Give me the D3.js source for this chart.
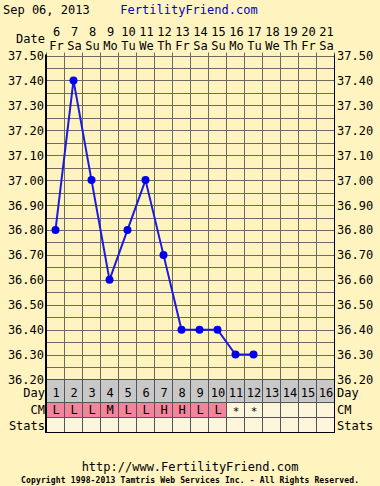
<!DOCTYPE html>
<html>
<head>
<meta charset="utf-8">
<script src="https://cdn.jsdelivr.net/npm/d3@7"></script>
<style>
  body { margin: 0; background: #fff3c0; }
  svg { display: block; font-family: "DejaVu Sans Mono", monospace; }
</style>
</head>
<body>
<div id="chart"></div>
<script>
// chart data
var cycleDays = [1,2,3,4,5,6,7,8,9,10,11,12,13,14,15,16];
var dateNumbers = ["6","7","8","9","10","11","12","13","14","15","16","17","18","19","20","21"];
var weekDays = ["Fr","Sa","Su","Mo","Tu","We","Th","Fr","Sa","Su","Mo","Tu","We","Th","Fr","Sa"];
var temps = [36.80,37.40,37.00,36.60,36.80,37.00,36.70,36.40,36.40,36.40,36.30,36.30];
var cmValues = ["L","L","L","M","L","L","H","H","L","L","*","*","","","",""];
var tempTicks = [37.50,37.40,37.30,37.20,37.10,37.00,36.90,36.80,36.70,36.60,36.50,36.40,36.30,36.20];

var width = 380, height = 486;
var plotLeft = 46.5, plotRight = 334.5, plotTop = 55.5, plotBottom = 379.5;

var svg = d3.select("#chart").append("svg")
    .attr("width", width).attr("height", height);

svg.append("rect").attr("width", width).attr("height", height).attr("fill", "#fff3c0");

var x = d3.scaleBand().domain(cycleDays).range([plotLeft, plotRight]);
var y = d3.scaleLinear().domain([36.2, 37.5]).range([plotBottom, plotTop]);

// header
svg.append("text").attr("x", 3).attr("y", 14).attr("font-size", 12).attr("fill", "#000").text("Sep 06, 2013");
svg.append("text").attr("x", 189).attr("y", 14).attr("font-size", 12).attr("fill", "#0000cc")
    .attr("text-anchor", "middle").text("FertilityFriend.com");

svg.append("text").attr("x", 45).attr("y", 43).attr("font-size", 12).attr("text-anchor", "end").text("Date");
svg.selectAll("text.dnum").data(cycleDays).enter().append("text")
    .attr("class", "dnum")
    .attr("x", function(d){ return x(d) + x.bandwidth()/2 + 1; })
    .attr("y", 36).attr("font-size", 12).attr("text-anchor", "middle")
    .text(function(d,i){ return dateNumbers[i]; });
svg.selectAll("text.wday").data(cycleDays).enter().append("text")
    .attr("class", "wday")
    .attr("x", function(d){ return x(d) + x.bandwidth()/2 + 1; })
    .attr("y", 50).attr("font-size", 12).attr("text-anchor", "middle")
    .text(function(d,i){ return weekDays[i]; });

// grid
var halfTicks = d3.range(0, 27).map(function(i){ return 36.2 + i*0.05; });
svg.selectAll("line.hgrid").data(halfTicks).enter().append("line")
    .attr("x1", plotLeft).attr("x2", plotRight)
    .attr("y1", function(d){ return Math.round(y(d)) + 0.5; })
    .attr("y2", function(d){ return Math.round(y(d)) + 0.5; })
    .attr("stroke", "#6e6a60").attr("stroke-width", 1);

var colEdges = cycleDays.map(function(d){ return x(d); }).concat([plotRight]);
svg.selectAll("line.vgrid").data(colEdges).enter().append("line")
    .attr("x1", function(d){ return Math.floor(d)+0.5; }).attr("x2", function(d){ return Math.floor(d)+0.5; })
    .attr("y1", plotTop - 3).attr("y2", plotBottom)
    .attr("stroke", "#6e6a60").attr("stroke-width", 1);

// side tick labels
svg.selectAll("text.ltick").data(tempTicks).enter().append("text")
    .attr("x", 44).attr("y", function(d){ return y(d) + 4.5; })
    .attr("font-size", 12).attr("text-anchor", "end")
    .text(function(d){ return d.toFixed(2); });
svg.selectAll("text.rtick").data(tempTicks).enter().append("text")
    .attr("x", 337).attr("y", function(d){ return y(d) + 4.5; })
    .attr("font-size", 12)
    .text(function(d){ return d.toFixed(2); });

// table rows
var rows = [
  {name: "Day", y0: 379.5, y1: 402.5},
  {name: "CM", y0: 402.5, y1: 417.5},
  {name: "Stats", y0: 417.5, y1: 432.5}
];

cycleDays.forEach(function(d, i){
  var cx0 = Math.floor(x(d)) + 0.5;
  var cw = x.bandwidth();
  svg.append("rect").attr("x", cx0).attr("y", rows[0].y0).attr("width", cw).attr("height", rows[0].y1-rows[0].y0)
      .attr("fill", "#c8c8c8").attr("stroke", "#555").attr("stroke-width", 1);
  var cm = cmValues[i];
  var pink = (cm == "L" || cm == "M" || cm == "H");
  svg.append("rect").attr("x", cx0).attr("y", rows[1].y0).attr("width", cw).attr("height", rows[1].y1-rows[1].y0)
      .attr("fill", pink ? "#f4849c" : "#fdf5dc").attr("stroke", "#555").attr("stroke-width", 1);
  svg.append("rect").attr("x", cx0).attr("y", rows[2].y0).attr("width", cw).attr("height", rows[2].y1-rows[2].y0)
      .attr("fill", "#fdf5dc").attr("stroke", "#555").attr("stroke-width", 1);
  svg.append("text").attr("x", x(d) + cw/2 + 0.5).attr("y", 397)
      .attr("font-size", 12).attr("text-anchor", "middle").text(d);
  svg.append("text").attr("x", x(d) + cw/2 + 0.5).attr("y", cm == "*" ? 415 : 414)
      .attr("font-size", cm == "*" ? 11 : 12).attr("text-anchor", "middle").text(cm);
});

svg.append("text").attr("x", 45).attr("y", 397).attr("font-size", 12).attr("text-anchor", "end").text("Day");
svg.append("text").attr("x", 45).attr("y", 414).attr("font-size", 12).attr("text-anchor", "end").text("CM");
svg.append("text").attr("x", 45).attr("y", 430).attr("font-size", 12).attr("text-anchor", "end").text("Stats");
svg.append("text").attr("x", 337).attr("y", 397).attr("font-size", 12).text("Day");
svg.append("text").attr("x", 337).attr("y", 414).attr("font-size", 12).text("CM");
svg.append("text").attr("x", 337).attr("y", 430).attr("font-size", 12).text("Stats");

// frame lines
svg.append("line").attr("x1", 46).attr("x2", 46).attr("y1", plotTop - 1).attr("y2", 433)
    .attr("stroke", "#000").attr("stroke-width", 2);
svg.append("line").attr("x1", plotRight).attr("x2", plotRight).attr("y1", plotTop - 1).attr("y2", 433)
    .attr("stroke", "#000").attr("stroke-width", 1);
svg.append("line").attr("x1", 45).attr("x2", plotRight + 0.5).attr("y1", 432.5).attr("y2", 432.5)
    .attr("stroke", "#000").attr("stroke-width", 1);

// temperature line
var tempPoints = temps.map(function(t, i){ return {day: cycleDays[i], temp: t}; });
var line = d3.line()
    .x(function(d){ return x(d.day) + x.bandwidth()/2; })
    .y(function(d){ return y(d.temp); });
svg.append("path").datum(tempPoints).attr("d", line)
    .attr("fill", "none").attr("stroke", "#1a1ae0").attr("stroke-width", 2);
svg.selectAll("circle.pt").data(tempPoints).enter().append("circle")
    .attr("cx", function(d){ return x(d.day) + x.bandwidth()/2; })
    .attr("cy", function(d){ return y(d.temp); })
    .attr("r", 4).attr("fill", "#0000ee");

// footer
svg.append("text").attr("x", 190).attr("y", 471).attr("font-size", 12).attr("text-anchor", "middle")
    .text("http://www.FertilityFriend.com");
svg.append("text").attr("x", 190).attr("y", 483).attr("font-size", 8).attr("font-weight", "bold")
    .attr("text-anchor", "middle").attr("textLength", 338).attr("lengthAdjust", "spacing")
    .text("Copyright 1998-2013 Tamtris Web Services Inc. - All Rights Reserved.");
</script>
</body>
</html>
